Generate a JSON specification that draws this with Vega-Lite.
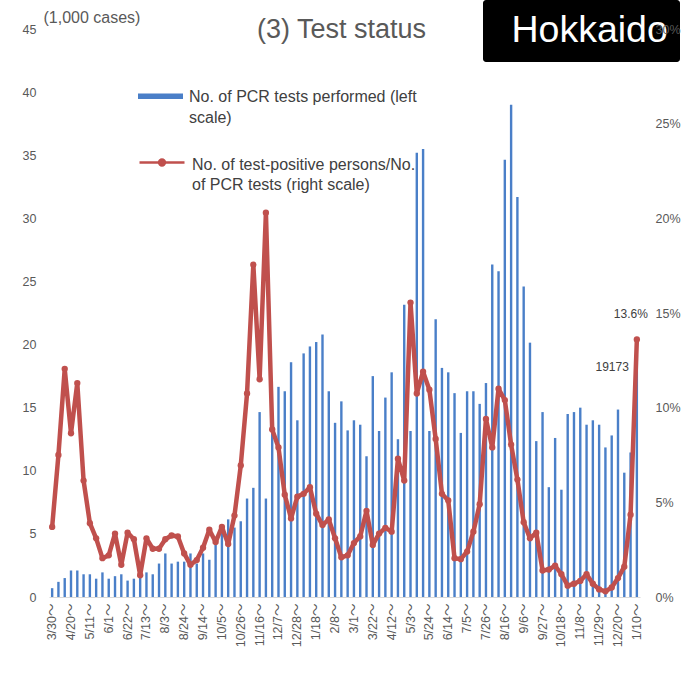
{
  "$schema": "https://vega.github.io/schema/vega-lite/v6.json",
  "width": 591,
  "height": 568,
  "autosize": {"type": "none"},
  "padding": {"left": 49, "top": 29, "right": 47, "bottom": 94},
  "background": "white",
  "config": {"view": {"stroke": null}, "font": "Liberation Sans"},
  "title": {"text": "(3) Test status", "fontSize": 27, "fontWeight": "normal", "color": "#595959", "anchor": "middle", "dx": -3, "offset": -44, "font": "Liberation Sans"},
  "data": {"values": [
    {"week": "3/30", "tests": 700, "pct": 0.037},
    {"week": "4/6", "tests": 1200, "pct": 0.075},
    {"week": "4/13", "tests": 1500, "pct": 0.1205},
    {"week": "4/20", "tests": 2100, "pct": 0.0865},
    {"week": "4/27", "tests": 2100, "pct": 0.113},
    {"week": "5/4", "tests": 1800, "pct": 0.0615},
    {"week": "5/11", "tests": 1800, "pct": 0.039},
    {"week": "5/18", "tests": 1450, "pct": 0.031},
    {"week": "5/25", "tests": 1950, "pct": 0.0205},
    {"week": "6/1", "tests": 1450, "pct": 0.022},
    {"week": "6/8", "tests": 1650, "pct": 0.0335},
    {"week": "6/15", "tests": 1800, "pct": 0.017},
    {"week": "6/22", "tests": 1300, "pct": 0.034},
    {"week": "6/29", "tests": 1450, "pct": 0.0305},
    {"week": "7/6", "tests": 1800, "pct": 0.0115},
    {"week": "7/13", "tests": 1950, "pct": 0.031},
    {"week": "7/20", "tests": 1800, "pct": 0.0255},
    {"week": "7/27", "tests": 2650, "pct": 0.0255},
    {"week": "8/3", "tests": 3450, "pct": 0.0305},
    {"week": "8/10", "tests": 2650, "pct": 0.0325},
    {"week": "8/17", "tests": 2800, "pct": 0.032},
    {"week": "8/24", "tests": 2800, "pct": 0.023},
    {"week": "8/31", "tests": 3450, "pct": 0.017},
    {"week": "9/7", "tests": 2650, "pct": 0.0195},
    {"week": "9/14", "tests": 3450, "pct": 0.026},
    {"week": "9/21", "tests": 2950, "pct": 0.0355},
    {"week": "9/28", "tests": 4300, "pct": 0.029},
    {"week": "10/5", "tests": 5500, "pct": 0.037},
    {"week": "10/12", "tests": 6150, "pct": 0.028},
    {"week": "10/19", "tests": 5500, "pct": 0.043},
    {"week": "10/26", "tests": 6000, "pct": 0.0695},
    {"week": "11/2", "tests": 7800, "pct": 0.1075},
    {"week": "11/9", "tests": 8650, "pct": 0.1755},
    {"week": "11/16", "tests": 14650, "pct": 0.115},
    {"week": "11/23", "tests": 7800, "pct": 0.203},
    {"week": "11/30", "tests": 13500, "pct": 0.0885},
    {"week": "12/7", "tests": 16650, "pct": 0.079},
    {"week": "12/14", "tests": 16300, "pct": 0.054},
    {"week": "12/21", "tests": 18600, "pct": 0.0415},
    {"week": "12/28", "tests": 14000, "pct": 0.053},
    {"week": "1/4", "tests": 19300, "pct": 0.0545},
    {"week": "1/11", "tests": 19850, "pct": 0.058},
    {"week": "1/18", "tests": 20200, "pct": 0.044},
    {"week": "1/25", "tests": 20800, "pct": 0.038},
    {"week": "2/1", "tests": 16300, "pct": 0.041},
    {"week": "2/8", "tests": 13800, "pct": 0.031},
    {"week": "2/15", "tests": 15500, "pct": 0.021},
    {"week": "2/22", "tests": 13200, "pct": 0.022},
    {"week": "3/1", "tests": 14000, "pct": 0.0285},
    {"week": "3/8", "tests": 13650, "pct": 0.032},
    {"week": "3/15", "tests": 11150, "pct": 0.0455},
    {"week": "3/22", "tests": 17500, "pct": 0.0275},
    {"week": "3/29", "tests": 13150, "pct": 0.0335},
    {"week": "4/5", "tests": 15800, "pct": 0.0365},
    {"week": "4/12", "tests": 17800, "pct": 0.0345},
    {"week": "4/19", "tests": 12500, "pct": 0.073},
    {"week": "4/26", "tests": 23150, "pct": 0.0615},
    {"week": "5/3", "tests": 13150, "pct": 0.1555},
    {"week": "5/10", "tests": 35200, "pct": 0.1075},
    {"week": "5/17", "tests": 35500, "pct": 0.119},
    {"week": "5/24", "tests": 13150, "pct": 0.1095},
    {"week": "5/31", "tests": 22000, "pct": 0.0835},
    {"week": "6/7", "tests": 18150, "pct": 0.0545},
    {"week": "6/14", "tests": 17800, "pct": 0.051},
    {"week": "6/21", "tests": 16150, "pct": 0.0205},
    {"week": "6/28", "tests": 13000, "pct": 0.02},
    {"week": "7/5", "tests": 16300, "pct": 0.024},
    {"week": "7/12", "tests": 16300, "pct": 0.0345},
    {"week": "7/19", "tests": 15300, "pct": 0.049},
    {"week": "7/26", "tests": 16950, "pct": 0.094},
    {"week": "8/2", "tests": 26350, "pct": 0.079},
    {"week": "8/9", "tests": 25800, "pct": 0.11},
    {"week": "8/16", "tests": 34650, "pct": 0.104},
    {"week": "8/23", "tests": 39000, "pct": 0.0805},
    {"week": "8/30", "tests": 31700, "pct": 0.062},
    {"week": "9/6", "tests": 24600, "pct": 0.0395},
    {"week": "9/13", "tests": 20150, "pct": 0.031},
    {"week": "9/20", "tests": 12350, "pct": 0.034},
    {"week": "9/27", "tests": 14650, "pct": 0.014},
    {"week": "10/4", "tests": 8700, "pct": 0.0145},
    {"week": "10/11", "tests": 12600, "pct": 0.0165},
    {"week": "10/18", "tests": 8500, "pct": 0.012},
    {"week": "10/25", "tests": 14500, "pct": 0.006},
    {"week": "11/1", "tests": 14650, "pct": 0.007},
    {"week": "11/8", "tests": 15000, "pct": 0.0085},
    {"week": "11/15", "tests": 13650, "pct": 0.012},
    {"week": "11/22", "tests": 14000, "pct": 0.007},
    {"week": "11/29", "tests": 13650, "pct": 0.004},
    {"week": "12/6", "tests": 11850, "pct": 0.003},
    {"week": "12/13", "tests": 12800, "pct": 0.005},
    {"week": "12/20", "tests": 14850, "pct": 0.01},
    {"week": "12/27", "tests": 9850, "pct": 0.016},
    {"week": "1/3", "tests": 11450, "pct": 0.0435},
    {"week": "1/10", "tests": 19173, "pct": 0.136}
  ]},
  "layer": [
    {
      "layer": [
        {
          "mark": {"type": "bar", "size": 2.4},
          "encoding": {
            "x": {
              "field": "week", "type": "ordinal", "sort": null,
              "scale": {"paddingInner": 0, "paddingOuter": 0},
              "axis": {
                "values": ["3/30","4/20","5/11","6/1","6/22","7/13","8/3","8/24","9/14","10/5","10/26","11/16","12/7","12/28","1/18","2/8","3/1","3/22","4/12","5/3","5/24","6/14","7/5","7/26","8/16","9/6","9/27","10/18","11/8","11/29","12/20","1/10"],
                "labelExpr": "datum.label + '～'",
                "labelAngle": -90,
                "labelFontSize": 12.5,
                "labelColor": "#595959",
                "labelFont": "Liberation Sans, Noto Sans CJK JP",
                "labelPadding": 6,
                "labelOverlap": false,
                "ticks": false,
                "grid": false,
                "domainColor": "#d9d9d9",
                "domainWidth": 1,
                "title": null
              }
            },
            "y": {
              "field": "tests", "type": "quantitative",
              "scale": {"domain": [0, 45000], "nice": false},
              "axis": {
                "orient": "left",
                "values": [0, 5000, 10000, 15000, 20000, 25000, 30000, 35000, 40000, 45000],
                "labelExpr": "format(datum.value / 1000, 'd')",
                "labelColor": "#595959",
                "labelFontSize": 12.5,
                "labelPadding": 13,
                "domain": false,
                "ticks": false,
                "grid": false,
                "title": "(1,000 cases)",
                "titleAngle": 0,
                "titleAlign": "left",
                "titleBaseline": "alphabetic",
                "titleX": -6,
                "titleY": -7,
                "titleFontSize": 16,
                "titleFontWeight": "normal",
                "titleColor": "#595959"
              }
            },
            "fill": {
              "datum": "PCR",
              "scale": {"range": ["#4a7fc8"]},
              "legend": {
                "title": null,
                "orient": "none",
                "legendX": 89,
                "legendY": 44.7,
                "padding": 0,
                "symbolType": "M-1,-0.125H1V0.125H-1Z",
                "symbolSize": 2025,
                "symbolStrokeWidth": 0,
                "symbolOpacity": 1,
                "labelExpr": "['No. of PCR tests performed (left', 'scale)']",
                "labelFontSize": 16,
                "labelColor": "#404040",
                "labelOffset": 6,
                "labelLimit": 600,
                "labelBaseline": "alphabetic",
                "encode": {"labels": {"update": {"dy": {"value": 6}, "lineHeight": {"value": 20.6}}}}
              }
            },
            "opacity": {
              "datum": "Hokkaido",
              "scale": {"range": [1, 1]},
              "legend": {
                "title": null,
                "orient": "none",
                "legendX": 434,
                "legendY": -29,
                "fillColor": "#000000",
                "cornerRadius": 3,
                "padding": 12,
                "symbolSize": 0,
                "symbolOpacity": 0,
                "labelExpr": "'Hokkaido'",
                "labelFontSize": 37.5,
                "labelColor": "#ffffff",
                "labelOffset": -21,
                "labelLimit": 600
              }
            }
          }
        },
        {
          "transform": [{"filter": "datum.week == '1/10'"}],
          "mark": {"type": "text", "align": "right", "baseline": "middle", "dx": -8, "dy": 12, "fontSize": 12, "color": "#404040"},
          "encoding": {
            "x": {"field": "week", "type": "ordinal", "sort": null},
            "y": {"field": "tests", "type": "quantitative"},
            "text": {"field": "tests", "type": "quantitative", "format": "d"}
          }
        }
      ]
    },
    {
      "layer": [
        {
          "mark": {"type": "line", "strokeWidth": 4.5, "strokeJoin": "round"},
          "encoding": {
            "x": {"field": "week", "type": "ordinal", "sort": null},
            "y": {
              "field": "pct", "type": "quantitative",
              "scale": {"domain": [0, 0.3], "nice": false},
              "axis": {
                "orient": "right",
                "values": [0, 0.05, 0.1, 0.15, 0.2, 0.25, 0.3],
                "format": ".0%",
                "labelColor": "#595959",
                "labelFontSize": 12.5,
                "labelPadding": 15,
                "domain": false,
                "ticks": false,
                "grid": false,
                "title": null,
                "zindex": 1
              }
            },
            "stroke": {
              "datum": "Positive",
              "scale": {"range": ["#c0504d"]},
              "legend": {
                "title": null,
                "orient": "none",
                "legendX": 89,
                "legendY": 109.5,
                "padding": 0,
                "symbolType": "M-1,0H1M0.13,0A0.13,0.13,0,1,1,-0.13,0A0.13,0.13,0,1,1,0.13,0Z",
                "symbolSize": 2025,
                "symbolStrokeWidth": 2.5,
                "symbolStrokeColor": "#c0504d",
                "symbolFillColor": "#c0504d",
                "labelExpr": "['No. of test-positive persons/No.', 'of PCR tests (right scale)']",
                "labelFontSize": 16,
                "labelColor": "#404040",
                "labelOffset": 6,
                "labelLimit": 600,
                "labelBaseline": "alphabetic",
                "encode": {"symbols": {"update": {"fill": {"value": "#c0504d"}}}, "labels": {"update": {"dy": {"value": 7.5}, "lineHeight": {"value": 19.5}}}}
              }
            }
          }
        },
        {
          "mark": {"type": "point", "filled": true, "size": 40, "color": "#c0504d", "opacity": 1},
          "encoding": {
            "x": {"field": "week", "type": "ordinal", "sort": null},
            "y": {"field": "pct", "type": "quantitative"}
          }
        },
        {
          "transform": [{"filter": "datum.week == '1/10'"}],
          "mark": {"type": "text", "align": "center", "baseline": "middle", "dx": -6, "dy": -26, "fontSize": 12, "color": "#404040"},
          "encoding": {
            "x": {"field": "week", "type": "ordinal", "sort": null},
            "y": {"field": "pct", "type": "quantitative"},
            "text": {"field": "pct", "type": "quantitative", "format": ".1%"}
          }
        }
      ]
    }
  ],
  "resolve": {"scale": {"y": "independent", "fill": "independent", "stroke": "independent", "opacity": "independent"}}
}
